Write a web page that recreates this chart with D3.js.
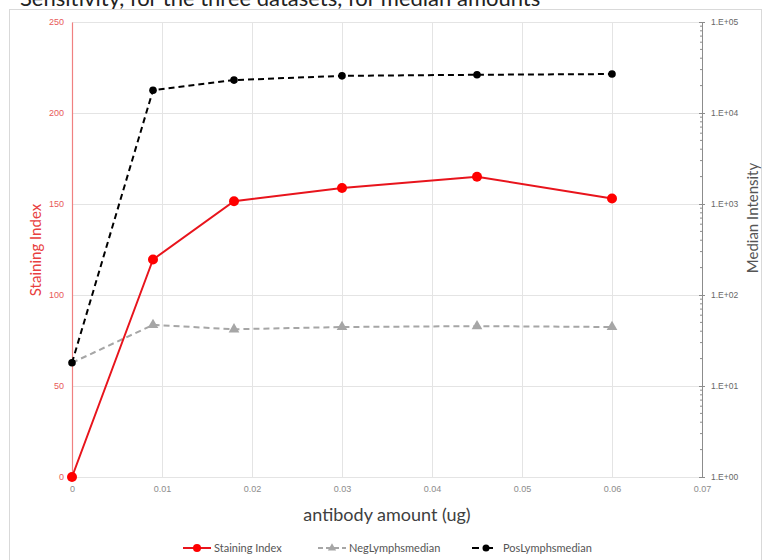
<!DOCTYPE html>
<html>
<head>
<meta charset="utf-8">
<script src="https://cdn.jsdelivr.net/npm/d3@7"></script>
<style>
  body { margin: 0; background: #fff; }
  svg { font-family: Lato, "Open Sans", sans-serif; }
</style>
</head>
<body>
<div id="chart"></div>
<script>
  // antibody amounts (ug)
  const amounts = [0, 0.009, 0.018, 0.03, 0.045, 0.06];
  const stainingIndex = [0, 119.5, 151.5, 158.8, 165, 153];
  const negLymphsMedian = [18, 47, 42, 44.5, 45.5, 44.5];
  const posLymphsMedian = [18, 17800, 23000, 25600, 26300, 26800];

  const leftTicks = [0, 50, 100, 150, 200, 250];
  const rightTicks = [1, 10, 100, 1000, 10000, 100000];
  const rightTickLabels = ["1.E+00", "1.E+01", "1.E+02", "1.E+03", "1.E+04", "1.E+05"];
  const xTicks = [0, 0.01, 0.02, 0.03, 0.04, 0.05, 0.06, 0.07];

  const width = 766, height = 560;
  const plot = {left: 72, right: 702, top: 22, bottom: 477};

  const svg = d3.select("#chart").append("svg")
    .attr("width", width)
    .attr("height", height);

  // title text, cut off at the top of the picture like the reference
  svg.append("text")
    .attr("x", 20)
    .attr("y", 6)
    .attr("font-size", 22)
    .attr("fill", "#222")
    .text("Sensitivity, for the three datasets, for median amounts");

  // chart frame
  svg.append("rect")
    .attr("x", 9.5).attr("y", 9.5)
    .attr("width", 752).attr("height", 560)
    .attr("fill", "#fff")
    .attr("stroke", "#d9d9d9");

  const x = d3.scaleLinear().domain([0, 0.07]).range([plot.left, plot.right]);
  const yLeft = d3.scaleLinear().domain([0, 250]).range([plot.bottom, plot.top]);
  const yRight = d3.scaleLog().domain([1, 100000]).range([plot.bottom, plot.top]);

  // gridlines
  const grid = svg.append("g").attr("stroke", "#e4e4e4").attr("stroke-width", 1);
  grid.selectAll("line.h").data(leftTicks).join("line")
    .attr("x1", plot.left).attr("x2", plot.right)
    .attr("y1", d => Math.round(yLeft(d)) + 0.5)
    .attr("y2", d => Math.round(yLeft(d)) + 0.5);
  grid.selectAll("line.v").data(xTicks.slice(1, -1)).join("line")
    .attr("x1", d => Math.round(x(d)) + 0.5)
    .attr("x2", d => Math.round(x(d)) + 0.5)
    .attr("y1", plot.top).attr("y2", plot.bottom);

  // left axis (red)
  const leftAxis = svg.append("g")
    .attr("transform", "translate(" + plot.left + ",0)")
    .call(d3.axisLeft(yLeft).tickValues(leftTicks).tickSize(0).tickPadding(8));
  leftAxis.select(".domain").attr("stroke", "#f08080").attr("stroke-width", 1.2);
  leftAxis.selectAll("text").attr("fill", "#e85a5a").attr("font-size", 9);

  // right axis (log, gray) with minor ticks
  const minor = [];
  for (let p = 0; p < 5; p++) {
    for (let m = 2; m <= 9; m++) minor.push(m * Math.pow(10, p));
  }
  const rightAxis = svg.append("g")
    .attr("transform", "translate(" + plot.right + ",0)")
    .call(d3.axisRight(yRight).tickValues(rightTicks)
      .tickFormat((d, i) => rightTickLabels[i]).tickSize(3).tickPadding(6));
  rightAxis.select(".domain").attr("stroke", "#8c8c8c");
  rightAxis.selectAll(".tick line").attr("stroke", "#8c8c8c").attr("x1", -3);
  rightAxis.selectAll("text").attr("fill", "#666").attr("font-size", 8.5);
  rightAxis.selectAll("line.minor").data(minor).join("line")
    .attr("class", "minor")
    .attr("x1", -2).attr("x2", 0)
    .attr("y1", d => yRight(d)).attr("y2", d => yRight(d))
    .attr("stroke", "#8c8c8c");

  // x axis labels
  const xAxis = svg.append("g")
    .attr("transform", "translate(0," + plot.bottom + ")")
    .call(d3.axisBottom(x).tickValues(xTicks)
      .tickFormat(d => d === 0 ? "0" : d3.format(".2f")(d)).tickSize(0).tickPadding(9));
  xAxis.select(".domain").remove();
  xAxis.selectAll("text").attr("fill", "#8c8c8c").attr("font-size", 9);

  // axis titles
  svg.append("text")
    .attr("x", 387).attr("y", 521)
    .attr("text-anchor", "middle")
    .attr("font-size", 18)
    .attr("fill", "#404040")
    .text("antibody amount (ug)");
  svg.append("text")
    .attr("transform", "translate(41,250) rotate(-90)")
    .attr("text-anchor", "middle")
    .attr("font-size", 15)
    .attr("fill", "#e84040")
    .text("Staining Index");
  svg.append("text")
    .attr("transform", "translate(758,218) rotate(-90)")
    .attr("text-anchor", "middle")
    .attr("font-size", 15)
    .attr("fill", "#555")
    .text("Median Intensity");

  const idx = d3.range(amounts.length);

  // NegLymphsmedian
  const negLine = d3.line().x(i => x(amounts[i])).y(i => yRight(negLymphsMedian[i]));
  svg.append("path")
    .attr("d", negLine(idx))
    .attr("fill", "none")
    .attr("stroke", "#a6a6a6")
    .attr("stroke-width", 2)
    .attr("stroke-dasharray", "6,4");
  svg.selectAll("path.neg").data(idx.slice(1)).join("path")
    .attr("class", "neg")
    .attr("d", d3.symbol(d3.symbolTriangle, 50))
    .attr("transform", i => "translate(" + x(amounts[i]) + "," + yRight(negLymphsMedian[i]) + ")")
    .attr("fill", "#a6a6a6");

  // PosLymphsmedian
  const posLine = d3.line().x(i => x(amounts[i])).y(i => yRight(posLymphsMedian[i]));
  svg.append("path")
    .attr("d", posLine(idx))
    .attr("fill", "none")
    .attr("stroke", "#000")
    .attr("stroke-width", 2)
    .attr("stroke-dasharray", "6,4");
  svg.selectAll("circle.pos").data(idx).join("circle")
    .attr("class", "pos")
    .attr("cx", i => x(amounts[i]))
    .attr("cy", i => yRight(posLymphsMedian[i]))
    .attr("r", 3.8)
    .attr("fill", "#000");

  // Staining Index
  const siLine = d3.line().x(i => x(amounts[i])).y(i => yLeft(stainingIndex[i]));
  svg.append("path")
    .attr("d", siLine(idx))
    .attr("fill", "none")
    .attr("stroke", "#e8141c")
    .attr("stroke-width", 2);
  svg.selectAll("circle.si").data(idx).join("circle")
    .attr("class", "si")
    .attr("cx", i => x(amounts[i]))
    .attr("cy", i => yLeft(stainingIndex[i]))
    .attr("r", 5)
    .attr("fill", "#f00");

  // legend
  const legendY = 548;
  const legend = svg.append("g").attr("font-size", 11).attr("fill", "#555");
  const l1 = legend.append("g").attr("transform", "translate(183," + legendY + ")");
  l1.append("line").attr("x1", 0).attr("x2", 28).attr("stroke", "#e8141c").attr("stroke-width", 2);
  l1.append("circle").attr("cx", 14).attr("r", 4).attr("fill", "#f00");
  l1.append("text").attr("x", 31).attr("dy", "0.35em").attr("fill", "#555").text("Staining Index");

  const l2 = legend.append("g").attr("transform", "translate(318," + legendY + ")");
  l2.append("line").attr("x1", 0).attr("x2", 28).attr("stroke", "#a6a6a6").attr("stroke-width", 2).attr("stroke-dasharray", "5,3");
  l2.append("path").attr("d", d3.symbol(d3.symbolTriangle, 30)).attr("transform", "translate(14,0)").attr("fill", "#a6a6a6");
  l2.append("text").attr("x", 31).attr("dy", "0.35em").attr("fill", "#555").text("NegLymphsmedian");

  const l3 = legend.append("g").attr("transform", "translate(472," + legendY + ")");
  l3.append("line").attr("x1", 0).attr("x2", 28).attr("stroke", "#000").attr("stroke-width", 2).attr("stroke-dasharray", "7,7");
  l3.append("circle").attr("cx", 14).attr("r", 3.5).attr("fill", "#000");
  l3.append("text").attr("x", 31).attr("dy", "0.35em").attr("fill", "#555").text("PosLymphsmedian");
</script>
</body>
</html>
